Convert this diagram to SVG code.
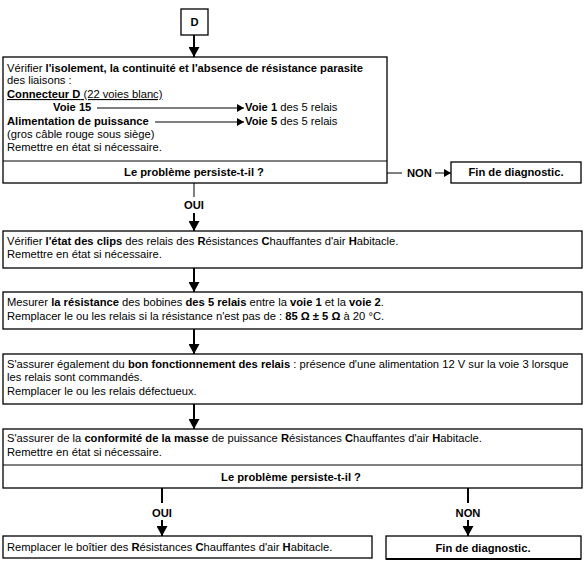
<svg xmlns="http://www.w3.org/2000/svg" width="587" height="565" viewBox="0 0 587 565">
<style>
.t{font-family:"Liberation Sans",Arial,sans-serif;font-size:11.2px;fill:#000}
.b{font-weight:bold}
.c{text-anchor:middle}
.box{fill:#fff;stroke:#000;stroke-width:1.3}
.ln{stroke:#000;stroke-width:2;fill:none}
.thin{stroke:#000;stroke-width:1;fill:none}
</style>
<defs>
<marker id="ah" markerUnits="userSpaceOnUse" markerWidth="11" markerHeight="11" refX="10" refY="5.5" orient="auto" viewBox="0 0 11 11"><path d="M0,0 L10,5.5 L0,11 z" fill="#000"/></marker>
<marker id="sh" markerUnits="userSpaceOnUse" markerWidth="8" markerHeight="8" refX="7" refY="4" orient="auto" viewBox="0 0 8 8"><path d="M0,0 L7,4 L0,8 z" fill="#000"/></marker>
</defs>
<g id="connectors">
<line class="ln" x1="194" y1="35" x2="194" y2="57" marker-end="url(#ah)"/>
<line class="thin" x1="387" y1="173" x2="402" y2="173"/>
<line class="thin" x1="435" y1="173" x2="451" y2="173" marker-end="url(#sh)"/>
<line class="thin" x1="194" y1="183" x2="194" y2="197"/>
<text class="t b c" x="194" y="209">OUI</text>
<line class="ln" x1="194" y1="213" x2="194" y2="231" marker-end="url(#ah)"/>
<line class="ln" x1="194" y1="268" x2="194" y2="292" marker-end="url(#ah)"/>
<line class="ln" x1="194" y1="329" x2="194" y2="354" marker-end="url(#ah)"/>
<line class="ln" x1="194" y1="404" x2="194" y2="429" marker-end="url(#ah)"/>
<line class="ln" x1="162" y1="488" x2="162" y2="503"/>
<text class="t b c" x="162" y="517">OUI</text>
<line class="ln" x1="162" y1="520" x2="162" y2="536" marker-end="url(#ah)"/>
<line class="ln" x1="468" y1="488" x2="468" y2="503"/>
<text class="t b c" x="468" y="517">NON</text>
<line class="ln" x1="468" y1="520" x2="468" y2="536" marker-end="url(#ah)"/>
</g>
<g id="nodeD">
<rect class="box" x="181" y="9" width="27" height="26"/>
<text class="t b c" x="194.5" y="26">D</text>
</g>
<g id="node1">
<rect class="box" x="3" y="57" width="384" height="126"/>
<line class="thin" x1="3" y1="161" x2="387" y2="161" stroke-width="1.3"/>
<text class="t" x="7" y="72">Vérifier <tspan class="b">l'isolement, la continuité et l'absence de résistance parasite</tspan></text>
<text class="t" x="7" y="84">des liaisons :</text>
<text class="t" x="7" y="98" text-decoration="underline"><tspan class="b">Connecteur  D</tspan> (22 voies blanc)</text>
<text class="t b" x="53" y="111">Voie 15</text>
<line class="thin" x1="97" y1="108" x2="244" y2="108" marker-end="url(#sh)"/>
<text class="t" x="245" y="111"><tspan class="b">Voie 1</tspan> des 5 relais</text>
<text class="t b" x="7" y="125">Alimentation de puissance</text>
<line class="thin" x1="155" y1="122" x2="244" y2="122" marker-end="url(#sh)"/>
<text class="t" x="245" y="125"><tspan class="b">Voie 5</tspan> des 5 relais</text>
<text class="t" x="7" y="138">(gros câble rouge sous siège)</text>
<text class="t" x="7" y="151">Remettre en état si nécessaire.</text>
<text class="t b c" x="194" y="176">Le problème persiste-t-il ?</text>
<text class="t b" x="407" y="177">NON</text>
</g>
<g id="fin1">
<rect class="box" x="451" y="162" width="130" height="21"/>
<text class="t b c" x="516" y="176">Fin de diagnostic.</text>
</g>
<g id="node2">
<rect class="box" x="3" y="231" width="579" height="37"/>
<text class="t" x="7" y="245">Vérifier <tspan class="b">l'état des clips</tspan> des relais des <tspan class="b">R</tspan>ésistances <tspan class="b">C</tspan>hauffantes d'air <tspan class="b">H</tspan>abitacle.</text>
<text class="t" x="7" y="258">Remettre en état si nécessaire.</text>
</g>
<g id="node3">
<rect class="box" x="3" y="292" width="579" height="37"/>
<text class="t" x="7" y="306">Mesurer <tspan class="b">la résistance</tspan> des bobines <tspan class="b">des 5 relais</tspan> entre la <tspan class="b">voie 1</tspan> et la <tspan class="b">voie 2</tspan>.</text>
<text class="t" x="7" y="320">Remplacer le ou les relais si la résistance n'est pas de : <tspan class="b">85 Ω ± 5 Ω</tspan> à 20 °C.</text>
</g>
<g id="node4">
<rect class="box" x="3" y="354" width="579" height="50"/>
<text class="t" x="7" y="368">S'assurer également du <tspan class="b">bon fonctionnement des relais</tspan> : présence d'une alimentation 12 V sur la voie  3 lorsque</text>
<text class="t" x="7" y="381">les relais sont commandés.</text>
<text class="t" x="7" y="395">Remplacer le ou les relais défectueux.</text>
</g>
<g id="node5">
<rect class="box" x="3" y="429" width="579" height="59"/>
<line class="thin" x1="3" y1="465" x2="582" y2="465" stroke-width="1.3"/>
<text class="t" x="7" y="442">S'assurer de la <tspan class="b">conformité de la masse</tspan> de puissance <tspan class="b">R</tspan>ésistances <tspan class="b">C</tspan>hauffantes d'air <tspan class="b">H</tspan>abitacle.</text>
<text class="t" x="7" y="456">Remettre en état si nécessaire.</text>
<text class="t b c" x="291" y="481">Le problème persiste-t-il ?</text>
</g>
<g id="node6">
<rect class="box" x="3" y="536" width="369" height="22"/>
<text class="t" x="7" y="551">Remplacer le boîtier des <tspan class="b">R</tspan>ésistances <tspan class="b">C</tspan>hauffantes d'air <tspan class="b">H</tspan>abitacle.</text>
</g>
<g id="fin2">
<rect class="box" x="386" y="536" width="195" height="23"/>
<line class="ln" x1="386" y1="559" x2="581" y2="559" stroke-width="3"/>
<text class="t b c" x="483" y="552">Fin de diagnostic.</text>
</g>
</svg>
